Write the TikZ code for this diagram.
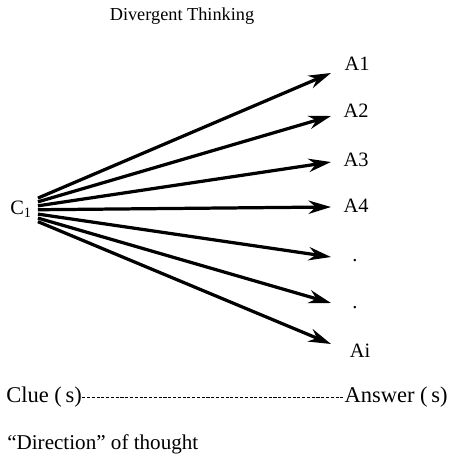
\documentclass[tikz,border=0pt]{standalone}
\usepackage{fontspec}
\setmainfont{Liberation Serif}
\usetikzlibrary{arrows.meta,calc}

\begin{document}
\begin{tikzpicture}[
  x=0.025cm, y=-0.025cm,
  lbl/.style={inner sep=0pt, font=\fontsize{14.5}{16}\selectfont},
  >={Stealth[length=16pt, width=9.5pt]},
  arrline/.style={->, line width=2.3pt},
  dashline/.style={line width=0.6pt, dash pattern=on 2.2pt off 1.2pt},
]
\useasboundingbox (0,0) rectangle (451,459);
\node[lbl, font=\fontsize{13}{15}\selectfont] (title) at (182,16) {Divergent Thinking};
\node[lbl] (clue1) at (21,209) {C\textsubscript{1}};
\coordinate (fan) at (10,210);
\coordinate (t1) at (331,73);
\coordinate (t2) at (331,116);
\coordinate (t3) at (331,162);
\coordinate (t4) at (331,207);
\coordinate (t5) at (331,257);
\coordinate (t6) at (331,303);
\coordinate (t7) at (331,344);
\node[lbl] (a1) at (357,64) {A1};
\node[lbl] (a2) at (356,111) {A2};
\node[lbl] (a3) at (356,160) {A3};
\node[lbl] (a4) at (356,206) {A4};
\node[lbl] (dot1) at (355,261) {.};
\node[lbl] (dot2) at (355,308) {.};
\node[lbl] (ai) at (360,351) {Ai};
\foreach \i in {1,...,7}
  \draw[arrline] ($(fan)!0.087!(t\i)$) -- (t\i);
\node[lbl, font=\fontsize{16}{18}\selectfont, anchor=west] (clue) at (6,397) {Clue (\,s)};
\node[lbl, font=\fontsize{16}{18}\selectfont, anchor=east] (answer) at (448,397) {Answer (\,s)};
\draw[dashline] (clue.east) -- (answer.west);
\node[lbl, font=\fontsize{15}{17}\selectfont, anchor=west] (dir) at (7,444) {``Direction'' of thought};
\end{tikzpicture}
\end{document}
